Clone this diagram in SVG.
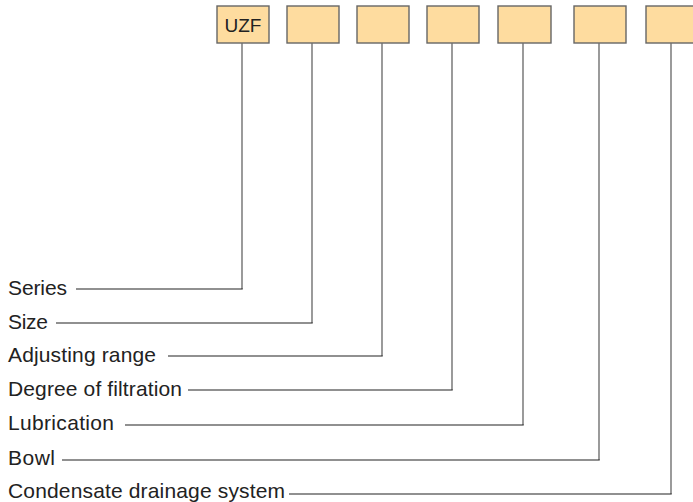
<svg xmlns="http://www.w3.org/2000/svg" width="693" height="502" viewBox="0 0 693 502">
<style>
.box{fill:#fedc9f;stroke:#666;stroke-width:1.4}
.lbl{font-family:"Liberation Sans",Arial,sans-serif;font-size:21px;fill:#222}
.code{font-family:"Liberation Sans",Arial,sans-serif;font-size:19px;fill:#222}
.v{stroke:#707070;stroke-width:1.4;fill:none}
.h{stroke:#222;stroke-width:1.2;fill:none}
</style>
<rect width="693" height="502" fill="#fff"/>
<g id="box-series"><rect class="box" x="217" y="6" width="52" height="37"/><text class="code" x="243" y="31.5" text-anchor="middle">UZF</text></g>
<g id="box-size"><rect class="box" x="287" y="6" width="52" height="37"/></g>
<g id="box-adjusting"><rect class="box" x="357" y="6" width="52" height="37"/></g>
<g id="box-filtration"><rect class="box" x="427" y="6" width="52" height="37"/></g>
<g id="box-lubrication"><rect class="box" x="498" y="6" width="53" height="37"/></g>
<g id="box-bowl"><rect class="box" x="574" y="6" width="52" height="37"/></g>
<g id="box-condensate"><rect class="box" x="646" y="6" width="54" height="37"/></g>
<g id="labels">
<text class="lbl" x="8" y="295" textLength="59">Series</text>
<text class="lbl" x="8" y="329" textLength="40">Size</text>
<text class="lbl" x="8" y="362" textLength="148">Adjusting range</text>
<text class="lbl" x="8" y="396" textLength="174">Degree of filtration</text>
<text class="lbl" x="8" y="430" textLength="106">Lubrication</text>
<text class="lbl" x="8" y="465" textLength="47">Bowl</text>
<text class="lbl" x="8" y="498" textLength="277">Condensate drainage system</text>
</g>
<g id="connectors">
<path class="v" d="M242 43V289"/><path class="h" d="M76 289H242.7"/>
<path class="v" d="M312 43V323"/><path class="h" d="M56 323H312.7"/>
<path class="v" d="M382 43V356"/><path class="h" d="M168 356H382.7"/>
<path class="v" d="M452 43V390"/><path class="h" d="M188 390H452.7"/>
<path class="v" d="M523 43V425"/><path class="h" d="M125 425H523.7"/>
<path class="v" d="M599 43V460"/><path class="h" d="M62 460H599.7"/>
<path class="v" d="M671 43V494"/><path class="h" d="M289 494H671.7"/>
</g>
</svg>
